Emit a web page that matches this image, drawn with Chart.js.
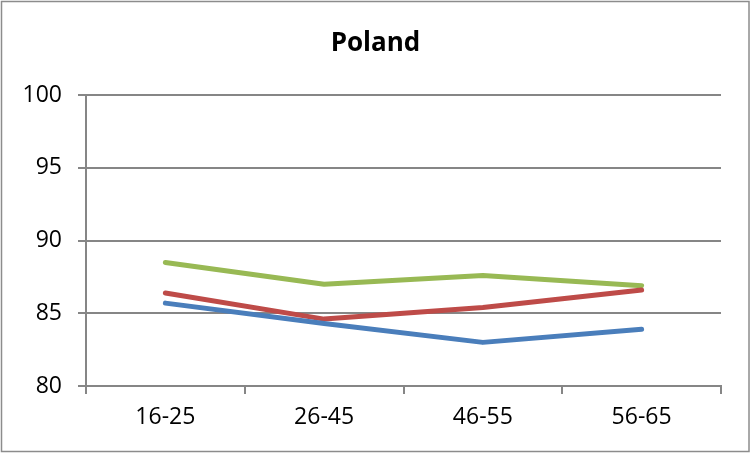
<!DOCTYPE html>
<html>
<head>
<meta charset="utf-8">
<script src="https://cdn.jsdelivr.net/npm/chart.js@4"></script>
<style>
html,body{margin:0;padding:0;background:#fff;}
#wrap{width:751px;height:453px;position:relative;}
</style>
</head>
<body>
<div id="wrap"><canvas id="c" width="751" height="453"></canvas></div>
<script>
const title = "Poland";
const categories = ["16-25", "26-45", "46-55", "56-65"];
const seriesBlue = [85.7, 84.3, 83.0, 83.9];
const seriesRed = [86.4, 84.6, 85.4, 86.6];
const seriesGreen = [88.5, 87.0, 87.6, 86.9];
const yMin = 80, yMax = 100, yStep = 5;

const gridColor = "#868686";
const fontFamily = "'Open Sans', 'Liberation Sans', sans-serif";

const borderPlugin = {
  id: 'outerBorder',
  beforeDraw(chart) {
    const ctx = chart.ctx;
    ctx.save();
    ctx.fillStyle = '#fff';
    ctx.fillRect(0, 0, chart.width, chart.height);
    ctx.strokeStyle = '#8c8c8c';
    ctx.lineWidth = 1.5;
    ctx.strokeRect(1.5, 1.5, chart.width - 3.5, chart.height - 3);
    ctx.restore();
  }
};

function ds(data, color) {
  return {
    data: data,
    borderColor: color,
    backgroundColor: color,
    borderWidth: 5,
    pointRadius: 0,
    pointHoverRadius: 0,
    tension: 0,
    fill: false,
    borderCapStyle: 'round',
    borderJoinStyle: 'round',
    yAxisID: 'y'
  };
}

new Chart(document.getElementById('c'), {
  type: 'line',
  data: {
    labels: categories,
    datasets: [
      ds(seriesBlue, '#4A7EBB'),
      ds(seriesRed, '#BE4B48'),
      ds(seriesGreen, '#98B954')
    ]
  },
  options: {
    responsive: false,
    animation: false,
    layout: { padding: { left: 0, right: 0, top: 0, bottom: 0 } },
    plugins: {
      legend: { display: false },
      tooltip: { enabled: false },
      title: {
        display: true,
        text: title,
        color: '#000',
        font: { family: fontFamily, size: 26, weight: 'bold', lineHeight: 1.2 },
        padding: { top: 28, bottom: 36 }
      }
    },
    scales: {
      x: {
        offset: true,
        grid: {
          display: true,
          offset: true,
          drawOnChartArea: false,
          drawTicks: true,
          tickLength: 8,
          color: gridColor,
          lineWidth: 2
        },
        border: { display: true, color: gridColor, width: 2 },
        ticks: {
          color: '#000',
          font: { family: fontFamily, size: 23 },
          padding: 10,
          maxRotation: 0
        },
        afterFit(scale) { scale.height = 67; }
      },
      y: {
        position: 'left',
        min: yMin,
        max: yMax,
        grid: {
          color: gridColor,
          lineWidth: 2,
          drawTicks: true,
          tickLength: 8
        },
        border: { display: true, color: gridColor, width: 2 },
        ticks: {
          stepSize: yStep,
          color: '#000',
          font: { family: fontFamily, size: 23 },
          padding: 16
        },
        afterFit(scale) { scale.width = 86; }
      },
      yRight: {
        position: 'right',
        display: true,
        min: yMin,
        max: yMax,
        grid: { display: false, drawOnChartArea: false },
        border: { display: false },
        ticks: { display: false },
        afterFit(scale) { scale.width = 30; }
      }
    }
  },
  plugins: [borderPlugin]
});
</script>
</body>
</html>
